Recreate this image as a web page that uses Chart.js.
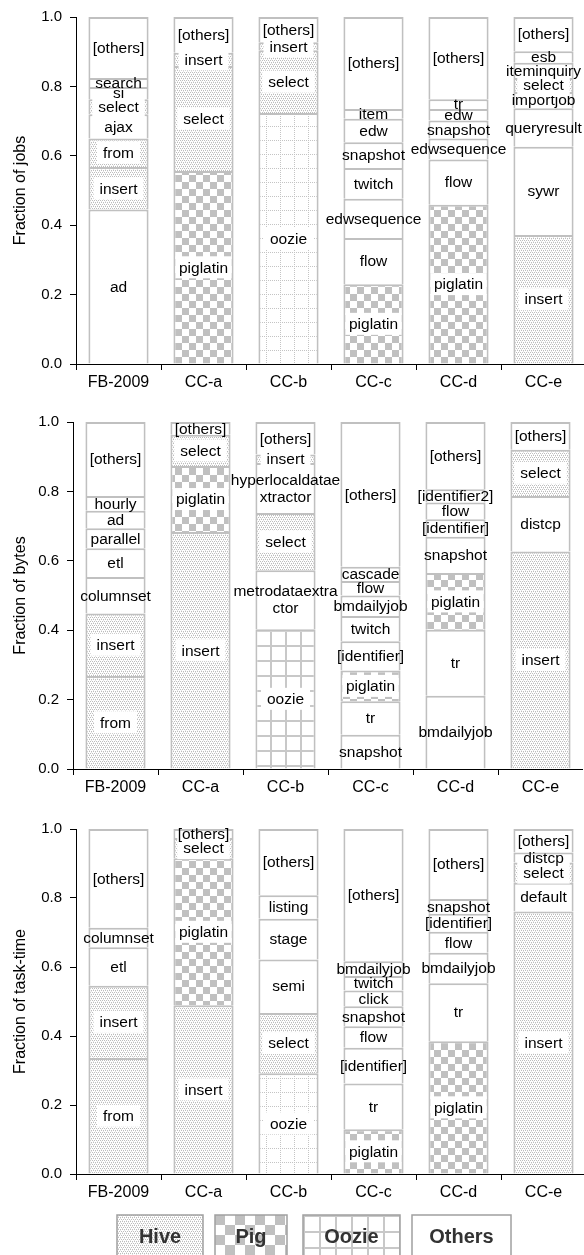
<!DOCTYPE html>
<html>
<head>
<meta charset="utf-8">
<script src="https://cdn.jsdelivr.net/npm/chart.js@4.4.1/dist/chart.umd.min.js"></script>
<style>
  html, body { margin: 0; padding: 0; background: #fff; overflow: hidden; }
  .box { position: absolute; left: 0; }
</style>
</head>
<body>
<div class="box" style="top:0;width:586px;height:394px"><canvas id="jobs"></canvas></div>
<div class="box" style="top:405px;width:583px;height:394px"><canvas id="bytes"></canvas></div>
<div class="box" style="top:812px;width:586px;height:443px"><canvas id="tasks"></canvas></div>
<script>
const categories = ['FB-2009', 'CC-a', 'CC-b', 'CC-c', 'CC-d', 'CC-e'];
const yTickValues = [0, 0.2, 0.4, 0.6, 0.8, 1.0];
const legendNames = ['Hive', 'Pig', 'Oozie', 'Others'];

// kinds: H = Hive, P = Pig, Z = Oozie, O = Others
const jobsNames = [
  ['ad', 'insert', 'from', 'ajax', 'select', 'si', 'search', '[others]'],
  ['piglatin', 'select', 'insert', '[others]'],
  ['oozie', 'select', 'insert', '[others]'],
  ['piglatin', 'flow', 'edwsequence', 'twitch', 'snapshot', 'edw', 'item', '[others]'],
  ['piglatin', 'flow', 'edwsequence', 'snapshot', 'edw', 'tr', '[others]'],
  ['insert', 'sywr', 'queryresult', 'importjob', 'select', 'iteminquiry', 'esb', '[others]']
];
const jobsValues = [
  [0.445, 0.123, 0.082, 0.070, 0.043, 0.035, 0.026, 0.176],
  [0.556, 0.303, 0.038, 0.103],
  [0.723, 0.181, 0.023, 0.073],
  [0.230, 0.133, 0.113, 0.089, 0.074, 0.068, 0.028, 0.265],
  [0.459, 0.130, 0.061, 0.052, 0.033, 0.028, 0.237],
  [0.372, 0.254, 0.111, 0.047, 0.040, 0.044, 0.033, 0.099]
];
const jobsKinds = ['OHHOHOOO', 'PHHO', 'ZHHO', 'POOOOOOO', 'POOOOOO', 'HOOOHOOO'];

const bytesNames = [
  ['from', 'insert', 'columnset', 'etl', 'parallel', 'ad', 'hourly', '[others]'],
  ['insert', 'piglatin', 'select', '[others]'],
  ['oozie', 'metrodataextra\nctor', 'select', 'hyperlocaldatae\nxtractor', 'insert', '[others]'],
  ['snapshot', 'tr', 'piglatin', '[identifier]', 'twitch', 'bmdailyjob', 'flow', 'cascade', '[others]'],
  ['bmdailyjob', 'tr', 'piglatin', 'snapshot', '[identifier]', 'flow', '[identifier2]', '[others]'],
  ['insert', 'distcp', 'select', '[others]']
];
const bytesValues = [
  [0.268, 0.180, 0.105, 0.083, 0.058, 0.050, 0.043, 0.213],
  [0.683, 0.190, 0.090, 0.037],
  [0.403, 0.170, 0.165, 0.144, 0.024, 0.094],
  [0.099, 0.096, 0.089, 0.084, 0.073, 0.059, 0.042, 0.041, 0.417],
  [0.211, 0.190, 0.164, 0.104, 0.051, 0.048, 0.038, 0.194],
  [0.627, 0.160, 0.133, 0.080]
];
const bytesKinds = ['HHOOOOOO', 'HPHO', 'ZOHOHO', 'OOPOOOOOO', 'OOPOOOOO', 'HOHO'];

const taskNames = [
  ['from', 'insert', 'etl', 'columnset', '[others]'],
  ['insert', 'piglatin', 'select', '[others]'],
  ['oozie', 'select', 'semi', 'stage', 'listing', '[others]'],
  ['piglatin', 'tr', '[identifier]', 'flow', 'snapshot', 'click', 'twitch', 'bmdailyjob', '[others]'],
  ['piglatin', 'tr', 'bmdailyjob', 'flow', '[identifier]', 'snapshot', '[others]'],
  ['insert', 'default', 'select', 'distcp', '[others]']
];
const taskValues = [
  [0.336, 0.210, 0.111, 0.057, 0.286],
  [0.489, 0.426, 0.059, 0.026],
  [0.292, 0.175, 0.155, 0.118, 0.068, 0.192],
  [0.130, 0.132, 0.104, 0.062, 0.058, 0.046, 0.042, 0.043, 0.383],
  [0.385, 0.168, 0.088, 0.061, 0.052, 0.043, 0.203],
  [0.761, 0.083, 0.059, 0.029, 0.068]
];
const taskKinds = ['HHOOO', 'HPHO', 'ZHOOOO', 'POOOOOOOO', 'POOOOOO', 'HOHOO'];

const FONT = '"Liberation Sans", Arial, sans-serif';

// =====================
// PATTERNS
// =====================
function makeTile(size, draw) {
  const c = document.createElement('canvas');
  c.width = c.height = size;
  const g = c.getContext('2d');
  g.fillStyle = '#fff';
  g.fillRect(0, 0, size, size);
  draw(g);
  return g.createPattern(c, 'repeat');
}

function checker(cell) {
  return makeTile(cell * 2, g => {
    g.fillStyle = '#c0c0c0';
    g.fillRect(0, 0, cell, cell);
    g.fillRect(cell, cell, cell, cell);
  });
}

function gridLines(size) {
  return makeTile(size, g => {
    g.fillStyle = '#c8c8c8';
    g.fillRect(0, 0, size, 2);
    g.fillRect(0, 0, 2, size);
  });
}

const hivePat = makeTile(4, g => {
  g.fillStyle = '#bdbdbd';
  g.fillRect(0, 0, 1, 1); g.fillRect(2, 0, 1, 1);
  g.fillRect(1, 2, 1, 1); g.fillRect(3, 2, 1, 1);
  g.fillStyle = '#e4e4e4';
  g.fillRect(1, 1, 1, 1); g.fillRect(3, 3, 1, 1);
});
const pigPat = checker(7);
const oozieDotPat = makeTile(14, g => {
  g.fillStyle = '#c4c4c4';
  for (let i = 0; i < 14; i += 2) {
    g.fillRect(i, 0, 1, 1);
    g.fillRect(0, i, 1, 1);
  }
});
const oozieLinePat = gridLines(15);

const patsDotted = { H: hivePat, P: pigPat, Z: oozieDotPat, O: '#fff' };
const patsLined = { H: hivePat, P: pigPat, Z: oozieLinePat, O: '#fff' };

// =====================
// SEGMENT LABELS
// =====================
const segLabels = {
  id: 'segLabels',
  afterDatasetsDraw(chart, args, opts) {
    const ctx = chart.ctx;
    ctx.save();
    ctx.font = '15.5px ' + FONT;
    ctx.textAlign = 'center';
    ctx.textBaseline = 'middle';
    const lh = 17;
    chart.data.datasets.forEach((ds, k) => {
      const meta = chart.getDatasetMeta(k);
      meta.data.forEach((bar, i) => {
        const name = opts.names[i][k];
        if (!name) return;
        const lines = name.split('\n');
        const cy = (bar.y + bar.base) / 2;
        if (opts.kinds[i][k] !== 'O') {
          const tw = Math.max(...lines.map(t => ctx.measureText(t).width));
          const w = Math.min(tw + 12, bar.width - 4);
          const h = lh * lines.length + 5;
          ctx.fillStyle = '#fff';
          ctx.fillRect(bar.x - w / 2, cy - h / 2, w, h);
        }
        ctx.fillStyle = '#000';
        lines.forEach((t, j) => {
          ctx.fillText(t, bar.x, cy + (j - (lines.length - 1) / 2) * lh + 1);
        });
      });
    });
    ctx.restore();
  }
};

// =====================
// LEGEND (bottom boxes)
// =====================
const boxLegend = {
  id: 'boxLegend',
  afterDraw(chart) {
    const ctx = chart.ctx;
    const pats = [hivePat, checker(10), gridLines(16), '#fff'];
    const xs = [117, 215, 303, 412];
    const ws = [86, 72, 97, 99];
    const top = 403, h = 44;
    ctx.save();
    ctx.font = 'bold 20px ' + FONT;
    ctx.textAlign = 'center';
    ctx.textBaseline = 'middle';
    legendNames.forEach((name, i) => {
      ctx.save();
      ctx.translate(xs[i], top);
      ctx.fillStyle = pats[i];
      ctx.fillRect(0, 0, ws[i], h);
      ctx.restore();
      ctx.strokeStyle = '#a0a0a0';
      ctx.lineWidth = 1.5;
      ctx.strokeRect(xs[i], top, ws[i], h);
      ctx.fillStyle = '#333';
      ctx.fillText(name, xs[i] + ws[i] / 2, top + 22);
    });
    ctx.restore();
  }
};

// =====================
// BUILD
// =====================
function buildChart(id, names, values, kinds, title, pats, yWidth, padTop, padBottom, extra) {
  const layers = Math.max(...values.map(v => v.length));
  const datasets = [];
  for (let k = 0; k < layers; k++) {
    datasets.push({
      data: values.map(v => (v[k] === undefined ? null : v[k])),
      backgroundColor: kinds.map(s => pats[s[k]] || '#fff'),
      borderColor: '#c0c0c0',
      borderWidth: 2,
      barPercentage: 0.708,
      categoryPercentage: 1
    });
  }
  return new Chart(document.getElementById(id), {
    type: 'bar',
    data: { labels: categories, datasets },
    options: {
      responsive: true,
      maintainAspectRatio: false,
      animation: false,
      layout: { padding: { top: padTop, bottom: padBottom, left: 0, right: 0 } },
      plugins: {
        legend: { display: false },
        tooltip: { enabled: false },
        segLabels: { names, kinds }
      },
      scales: {
        x: {
          stacked: true,
          grid: { drawOnChartArea: false, color: '#000', tickLength: 6, offset: true },
          border: { color: '#000', width: 1 },
          ticks: { color: '#000', font: { family: FONT, size: 16 }, padding: 3 },
          afterFit: s => { s.height = 30; }
        },
        y: {
          stacked: true,
          min: 0,
          max: 1,
          afterBuildTicks: s => { s.ticks = yTickValues.map(v => ({ value: v })); },
          grid: { drawOnChartArea: false, color: '#000', tickLength: 6 },
          border: { color: '#000', width: 1 },
          ticks: { color: '#000', font: { family: FONT, size: 15 }, padding: 8, callback: v => Number(v).toFixed(1) },
          title: { display: true, text: title, color: '#000', font: { family: FONT, size: 16 }, padding: { top: 11, bottom: 0 } },
          afterFit: s => { s.width = yWidth; }
        }
      }
    },
    plugins: [segLabels].concat(extra)
  });
}

buildChart('jobs', jobsNames, jobsValues, jobsKinds, 'Fraction of jobs', patsDotted, 76, 9.3, 0, []);
buildChart('bytes', bytesNames, bytesValues, bytesKinds, 'Fraction of bytes', patsLined, 73, 9.3, 0, []);
buildChart('tasks', taskNames, taskValues, taskKinds, 'Fraction of task-time', patsDotted, 76, 9.7, 51, [boxLegend]);
</script>
</body>
</html>
